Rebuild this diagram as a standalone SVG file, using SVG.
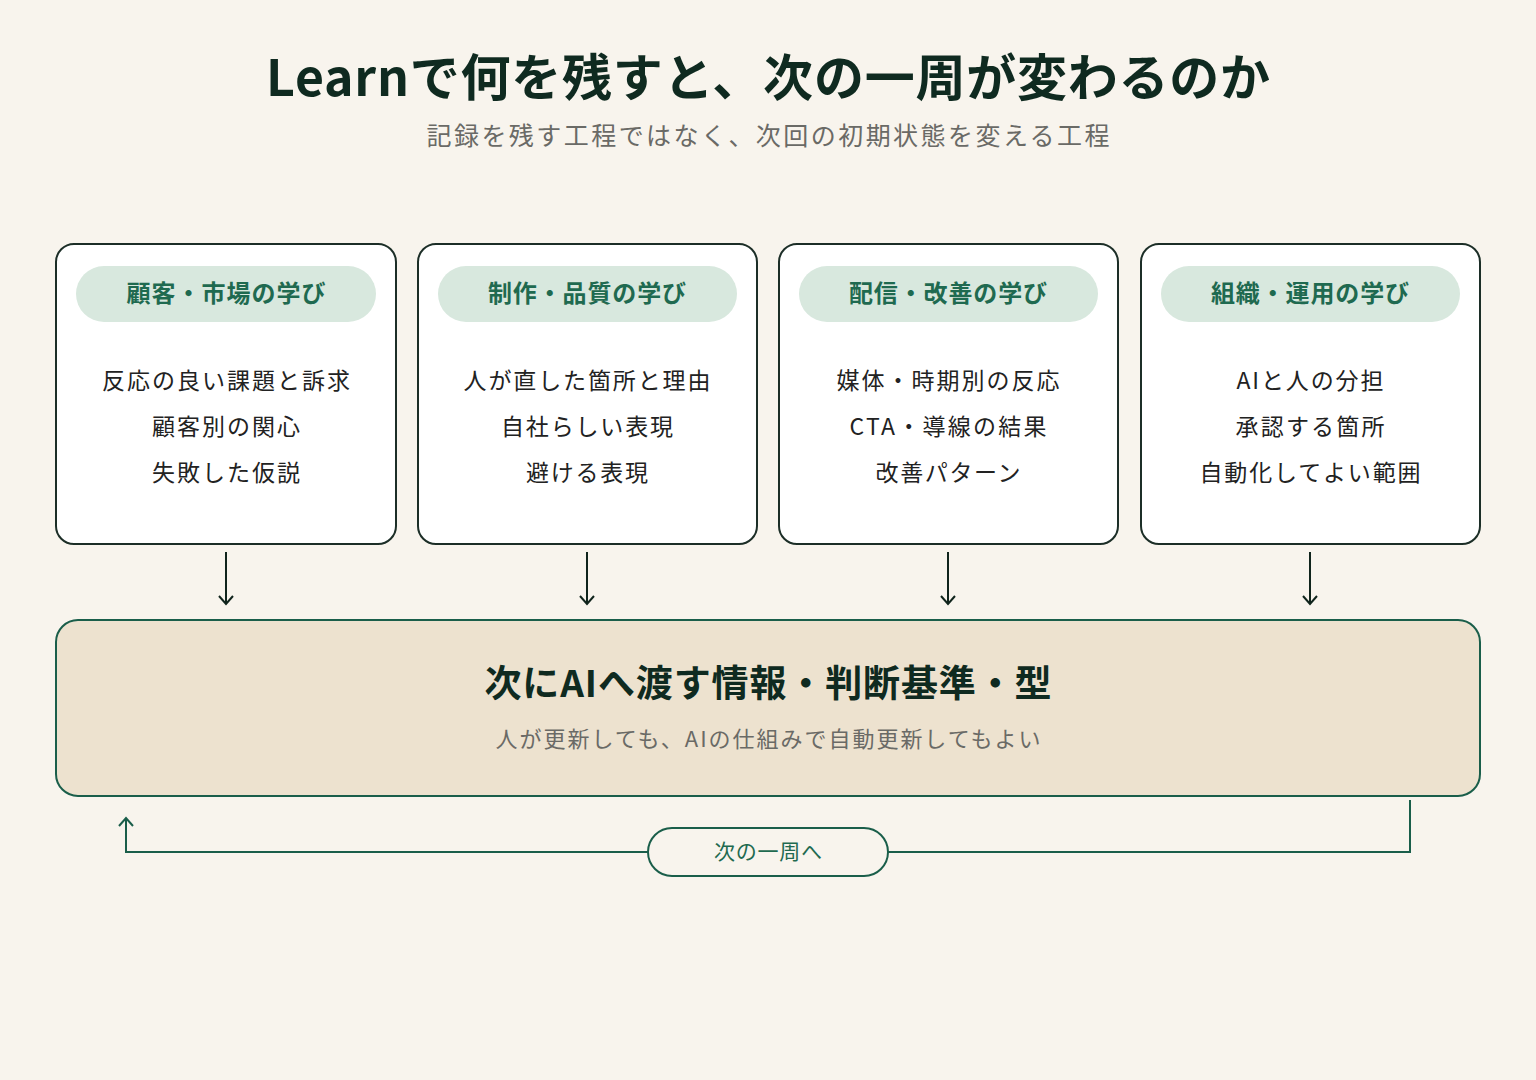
<svg xmlns="http://www.w3.org/2000/svg" width="1536" height="1080" viewBox="0 0 1536 1080">
<defs>
<style>
.jp{font-family:"Noto Sans CJK JP","Noto Sans",sans-serif;}
.title{font-size:50px;font-weight:700;fill:#0f2a20;}
.sub{font-size:25px;fill:#6a6a66;}
.card{fill:#ffffff;stroke:#1c2e27;stroke-width:2;}
.pill{fill:#d8e8de;}
.pilltxt{font-size:24px;font-weight:700;fill:#1f6a50;}
.body{font-size:23px;fill:#222;}
.arrow{stroke:#10241c;stroke-width:2;fill:none;}
.hub{fill:#ede2cf;stroke:#1a5e4a;stroke-width:2;}
.hubt{font-size:37px;font-weight:700;fill:#0f2a20;}
.hubs{font-size:22px;fill:#6a6a66;}
.loop{stroke:#1a5e4a;stroke-width:2;fill:none;}
.looptxt{font-size:21px;fill:#1f6a50;}
</style>
<marker id="ah" viewBox="0 0 14 16" refX="12" refY="8" markerWidth="14" markerHeight="16" markerUnits="userSpaceOnUse" orient="auto">
<path d="M4,1 L12,8 L4,15" fill="none" stroke="#10241c" stroke-width="2"/>
</marker>
<marker id="ahg" viewBox="0 0 14 16" refX="12" refY="8" markerWidth="14" markerHeight="16" markerUnits="userSpaceOnUse" orient="auto">
<path d="M4,1 L12,8 L4,15" fill="none" stroke="#1a5e4a" stroke-width="2"/>
</marker>
</defs>
<rect width="1536" height="1080" fill="#f8f4ed"/>
<text class="jp title" x="768" y="96" text-anchor="middle" textLength="1004" lengthAdjust="spacing">Learnで何を残すと、次の一周が変わるのか</text>
<text class="jp sub" x="768" y="145" text-anchor="middle" textLength="683" lengthAdjust="spacing">記録を残す工程ではなく、次回の初期状態を変える工程</text>

<g id="card1">
<rect class="card" x="56" y="244" width="340" height="300" rx="18"/>
<rect class="pill" x="76" y="266" width="300" height="56" rx="28"/>
<text class="jp pilltxt" x="226" y="302" text-anchor="middle" textLength="199" lengthAdjust="spacing">顧客・市場の学び</text>
<text class="jp body" x="226" y="389" text-anchor="middle" textLength="248" lengthAdjust="spacing">反応の良い課題と訴求</text>
<text class="jp body" x="226" y="435" text-anchor="middle" textLength="148" lengthAdjust="spacing">顧客別の関心</text>
<text class="jp body" x="226" y="481" text-anchor="middle" textLength="148" lengthAdjust="spacing">失敗した仮説</text>
</g>
<g id="card2">
<rect class="card" x="418" y="244" width="339" height="300" rx="18"/>
<rect class="pill" x="438" y="266" width="299" height="56" rx="28"/>
<text class="jp pilltxt" x="587" y="302" text-anchor="middle" textLength="198" lengthAdjust="spacing">制作・品質の学び</text>
<text class="jp body" x="587" y="389" text-anchor="middle" textLength="247" lengthAdjust="spacing">人が直した箇所と理由</text>
<text class="jp body" x="587" y="435" text-anchor="middle" textLength="172" lengthAdjust="spacing">自社らしい表現</text>
<text class="jp body" x="587" y="481" text-anchor="middle" textLength="122" lengthAdjust="spacing">避ける表現</text>
</g>
<g id="card3">
<rect class="card" x="779" y="244" width="339" height="300" rx="18"/>
<rect class="pill" x="799" y="266" width="299" height="56" rx="28"/>
<text class="jp pilltxt" x="948" y="302" text-anchor="middle" textLength="198" lengthAdjust="spacing">配信・改善の学び</text>
<text class="jp body" x="948" y="389" text-anchor="middle" textLength="223" lengthAdjust="spacing">媒体・時期別の反応</text>
<text class="jp body" x="948" y="435" text-anchor="middle" textLength="197" lengthAdjust="spacing">CTA・導線の結果</text>
<text class="jp body" x="948" y="481" text-anchor="middle" textLength="145" lengthAdjust="spacing">改善パターン</text>
</g>
<g id="card4">
<rect class="card" x="1141" y="244" width="339" height="300" rx="18"/>
<rect class="pill" x="1161" y="266" width="299" height="56" rx="28"/>
<text class="jp pilltxt" x="1310" y="302" text-anchor="middle" textLength="198" lengthAdjust="spacing">組織・運用の学び</text>
<text class="jp body" x="1310" y="389" text-anchor="middle" textLength="147" lengthAdjust="spacing">AIと人の分担</text>
<text class="jp body" x="1310" y="435" text-anchor="middle" textLength="149" lengthAdjust="spacing">承認する箇所</text>
<text class="jp body" x="1310" y="481" text-anchor="middle" textLength="221" lengthAdjust="spacing">自動化してよい範囲</text>
</g>

<g id="hub">
<rect class="hub" x="56" y="620" width="1424" height="176" rx="22"/>
<text class="jp hubt" x="768" y="697" text-anchor="middle" textLength="567" lengthAdjust="spacing">次にAIへ渡す情報・判断基準・型</text>
<text class="jp hubs" x="768" y="747" text-anchor="middle" textLength="545" lengthAdjust="spacing">人が更新しても、AIの仕組みで自動更新してもよい</text>
</g>

<g id="connectors">
<line class="arrow" x1="226" y1="552" x2="226" y2="604" marker-end="url(#ah)"/>
<line class="arrow" x1="587" y1="552" x2="587" y2="604" marker-end="url(#ah)"/>
<line class="arrow" x1="948" y1="552" x2="948" y2="604" marker-end="url(#ah)"/>
<line class="arrow" x1="1310" y1="552" x2="1310" y2="604" marker-end="url(#ah)"/>
<path class="loop" d="M1410,800 L1410,852 L126,852 L126,818" marker-end="url(#ahg)"/>
</g>

<g id="looplabel">
<rect x="648" y="828" width="240" height="48" rx="24" fill="#f8f4ed" stroke="#1a5e4a" stroke-width="2"/>
<text class="jp looptxt" x="768" y="859" text-anchor="middle" textLength="108" lengthAdjust="spacing">次の一周へ</text>
</g>
</svg>
